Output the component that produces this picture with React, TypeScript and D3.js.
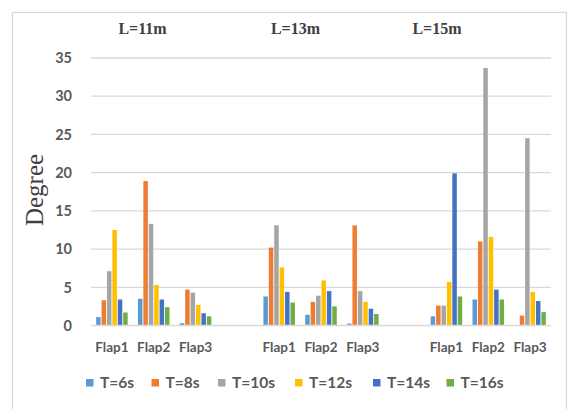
import React from "react";
import * as d3 from "d3";

const groups = ["L=11m", "L=13m", "L=15m"];
const flaps = ["Flap1", "Flap2", "Flap3"];
const seriesNames = ["T=6s", "T=8s", "T=10s", "T=12s", "T=14s", "T=16s"];
const seriesColors = ["#5B9BD5", "#ED7D31", "#A5A5A5", "#FFC000", "#4472C4", "#70AD47"];
// values in order: L=11m Flap1..3, L=13m Flap1..3, L=15m Flap1..3
const t6 = [1.1, 3.5, 0.3, 3.8, 1.4, 0.25, 1.2, 3.4, 0];
const t8 = [3.3, 18.9, 4.7, 10.2, 3.1, 13.1, 2.6, 11.0, 1.3];
const t10 = [7.1, 13.3, 4.3, 13.1, 3.9, 4.5, 2.6, 33.7, 24.5];
const t12 = [12.5, 5.3, 2.7, 7.6, 5.9, 3.1, 5.7, 11.6, 4.4];
const t14 = [3.4, 3.4, 1.6, 4.4, 4.5, 2.2, 19.9, 4.7, 3.2];
const t16 = [1.7, 2.4, 1.2, 3.0, 2.5, 1.5, 3.8, 3.4, 1.75];
const seriesValues = [t6, t8, t10, t12, t14, t16];
const yTicks = [0, 5, 10, 15, 20, 25, 30, 35];

const W = 571, H = 409;
const plot = { left: 91, right: 551, top: 58, bottom: 325.5 };
const sansFont = "Lato, 'Open Sans', sans-serif";
const serifFont = "'Liberation Serif', 'Times New Roman', serif";
const textColor = "#595959";
// layout of the annotation texts (group titles sit above, left of their clusters)
const titleX = [142.5, 295.5, 437];
const legendX = [86, 151.5, 218, 295, 373, 446.5];

export default function App() {
  // 11 slots: 3 flaps per group plus one empty slot between groups
  const slots: { label: string; dataIndex: number }[] = [];
  groups.forEach((g, gi) => {
    flaps.forEach((f, fi) => slots.push({ label: f, dataIndex: gi * 3 + fi }));
    if (gi < groups.length - 1) slots.push({ label: "", dataIndex: -1 });
  });
  const x = d3.scaleBand<number>().domain(d3.range(slots.length)).range([plot.left, plot.right]).padding(0);
  const y = d3.scaleLinear().domain([0, 35]).range([plot.bottom, plot.top]);
  const clusterW = x.bandwidth() * 0.775;
  const inner = d3.scaleBand<number>().domain(d3.range(seriesNames.length)).range([0, clusterW]).paddingInner(0.17).paddingOuter(0.08);

  return (
    <svg width={W} height={H} style={{ position: "fixed", left: 0, top: 0, background: "#fff" }}>
      <rect x={0} y={0} width={W} height={H} fill="#fff" />
      <rect x={12.5} y={12.5} width={554} height={420} fill="none" stroke="#d9d9d9" strokeWidth={1.2} />
      {yTicks.map((t) => (
        <g key={t}>
          {t > 0 && (
            <line x1={plot.left} x2={plot.right} y1={y(t)} y2={y(t)} stroke="#d9d9d9" strokeWidth={1.3} />
          )}
          <text x={72} y={y(t)} dy="0.36em" textAnchor="end" fontFamily={sansFont} fontWeight={700} fontSize={14.5} fill={textColor}>
            {t}
          </text>
        </g>
      ))}
      {slots.map((s, si) =>
        s.dataIndex < 0
          ? null
          : seriesValues.map((vals, k) => {
              const v = vals[s.dataIndex];
              if (v <= 0) return null;
              const bx = x(si)! + (x.bandwidth() - clusterW) / 2 + inner(k)!;
              return (
                <rect key={`${si}-${k}`} x={bx} y={y(v)} width={inner.bandwidth()} height={y(0) - y(v)} fill={seriesColors[k]} />
              );
            })
      )}
      <line x1={plot.left} x2={plot.right} y1={plot.bottom} y2={plot.bottom} stroke="#d9d9d9" strokeWidth={1.5} />
      {slots.map((s, si) => (
        <text key={`l${si}`} x={x(si)! + x.bandwidth() / 2} y={347} dy="0.35em" textAnchor="middle" fontFamily={sansFont} fontWeight={700} fontSize={13.5} fill={textColor}>
          {s.label}
        </text>
      ))}
      {groups.map((g, gi) => (
        <text key={g} x={titleX[gi]} y={28} dy="0.35em" textAnchor="middle" fontFamily={serifFont} fontWeight={700} fontSize={16} fill="#404040">
          {g}
        </text>
      ))}
      <text transform="translate(34,190) rotate(-90)" textAnchor="middle" dy="0.35em" fontFamily={serifFont} fontSize={25} fill="#404040">
        Degree
      </text>
      {seriesNames.map((n, k) => (
        <g key={n}>
          <rect x={legendX[k]} y={379} width={7.5} height={7.5} fill={seriesColors[k]} />
          <text x={legendX[k] + 14} y={382.5} dy="0.36em" fontFamily={sansFont} fontWeight={700} fontSize={15.5} fill={textColor}>
            {n}
          </text>
        </g>
      ))}
    </svg>
  );
}
